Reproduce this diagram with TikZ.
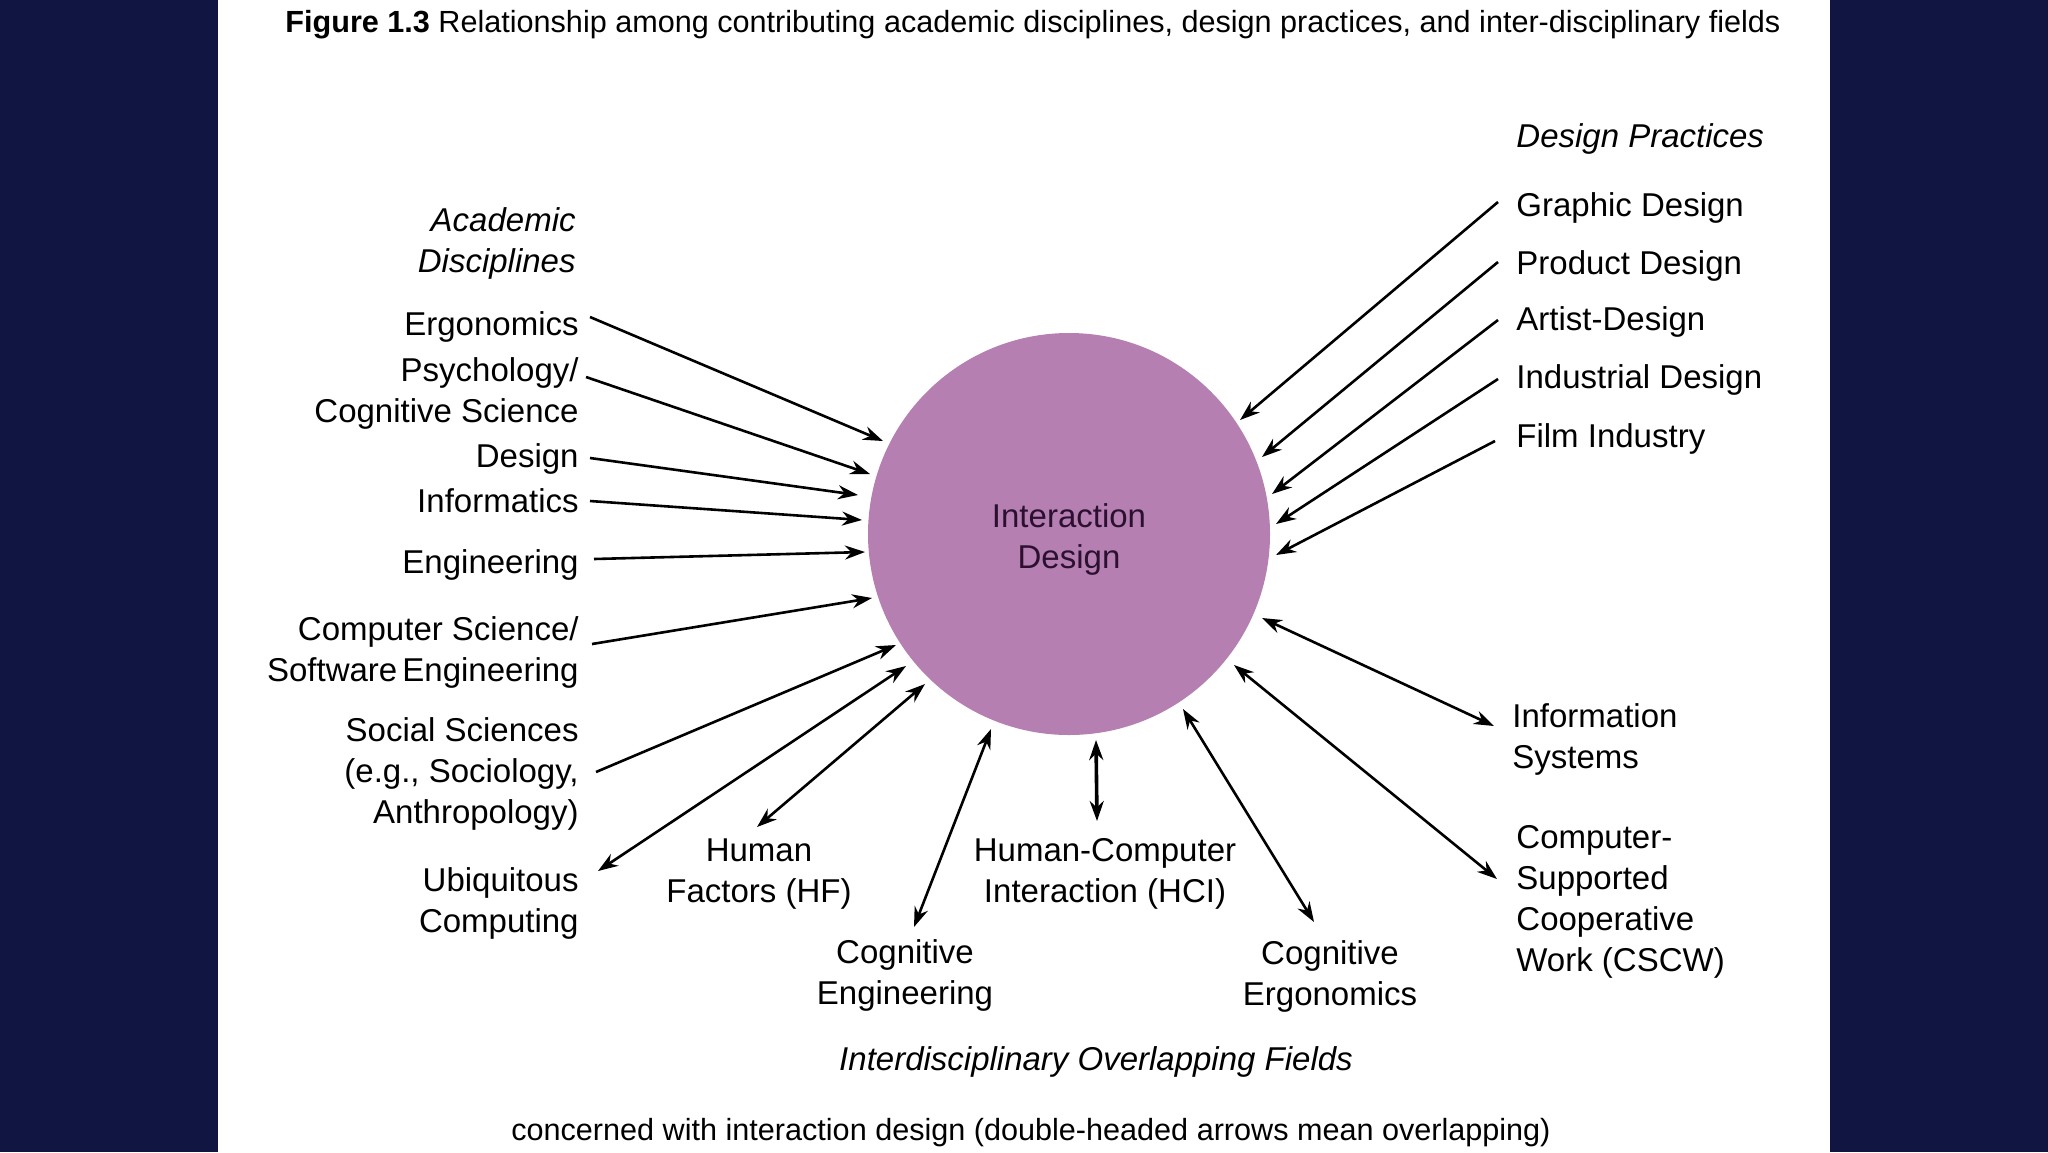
\documentclass[tikz,border=0pt]{standalone}
\usepackage{fontspec}
\setmainfont{Liberation Sans}
\usetikzlibrary{arrows.meta}
\definecolor{navy}{HTML}{111541}
\definecolor{orb}{HTML}{B57FB2}
\definecolor{orbtext}{HTML}{2B1030}
\begin{document}
\begin{tikzpicture}[x=0.5pt,y=-0.5pt,
  lbl/.style={font=\fontsize{16.5}{20.5}\selectfont, inner sep=0pt},
  lblR/.style={lbl, anchor=east, align=right},
  lblL/.style={lbl, anchor=west, align=left},
  lblC/.style={lbl, anchor=center, align=center},
  hdr/.style={font=\fontsize{16.5}{20.5}\selectfont\itshape, inner sep=0pt},
  captext/.style={font=\fontsize{15.3}{18}\selectfont, inner sep=0pt},
  arr/.style={line width=1.3pt, -{Stealth[length=10pt,width=7pt]}},
  darr/.style={line width=1.3pt, {Stealth[length=10pt,width=7pt]}-{Stealth[length=10pt,width=7pt]}}
]
\useasboundingbox (0,0) rectangle (2048,1152);
\fill[navy] (0,0) rectangle (2048,1152);
\fill[white] (218,0) rectangle (1830,1152);

% title and caption
\node[captext, anchor=west] (title) at (285,25) {\textbf{Figure 1.3} Relationship among contributing academic disciplines, design practices, and inter-disciplinary fields};
\node[captext, anchor=center] (caption) at (1031,1133) {concerned with interaction design (double-headed arrows mean overlapping)};

% central circle
\node[circle, fill=orb, minimum size=201pt, inner sep=0pt] (id) at (1069,534) {};
\node[lblC, text=orbtext] (idtext) at (1069,539) {Interaction\\Design};

% left labels
\node[hdr, anchor=east, align=right] (acad) at (576,243.5) {Academic\\Disciplines};
\node[lblR] (ergo) at (579,327) {Ergonomics};
\node[lblR] (psych) at (579,393) {Psychology/\\Cognitive Science};
\node[lblR] (design) at (579,459) {Design};
\node[lblR] (inform) at (579,501) {Informatics};
\node[lblR] (eng) at (579,565) {Engineering};
\node[lblR] (cs) at (579,652.5) {Computer Science/\\Software\hspace{-2pt} Engineering};
\node[lblR] (soc) at (579,774) {Social Sciences\\(e.g., Sociology,\\Anthropology)};
\node[lblR] (ubi) at (579,903) {Ubiquitous\\Computing};

% right labels
\node[hdr, anchor=west] (dp) at (1516,139) {Design Practices};
\node[lblL] (graphic) at (1516,208) {Graphic Design};
\node[lblL] (product) at (1516,265.5) {Product Design};
\node[lblL] (artist) at (1516,322) {Artist-Design};
\node[lblL] (industrial) at (1516,380) {Industrial Design};
\node[lblL] (film) at (1516,439) {Film Industry};
\node[lblL] (info) at (1512,739) {Information\\Systems};
\node[lblL] (cscw) at (1516,902) {Computer-\\Supported\\Cooperative\\Work (CSCW)};

% bottom labels
\node[lblC] (hf) at (759,874.5) {Human\\Factors (HF)};
\node[lblC] (ce) at (905,975.5) {Cognitive\\Engineering};
\node[lblC] (hci) at (1105,873.5) {Human-Computer\\Interaction (HCI)};
\node[lblC] (cerg) at (1330,976) {Cognitive\\Ergonomics};
\node[hdr, anchor=center] (idf) at (1096,1062) {Interdisciplinary Overlapping Fields};

% connector end points
\coordinate (ergoS) at (590,317);  \coordinate (ergoE) at (883,441);
\coordinate (psychS) at (586,377); \coordinate (psychE) at (870,474);
\coordinate (designS) at (590,458); \coordinate (designE) at (858,495);
\coordinate (informS) at (590,501); \coordinate (informE) at (862,520);
\coordinate (engS) at (594,559);   \coordinate (engE) at (865,552);
\coordinate (csS) at (592,644);    \coordinate (csE) at (872,598);
\coordinate (socS) at (596,772);   \coordinate (socE) at (896,645);
\coordinate (ubiS) at (598,871);   \coordinate (ubiE) at (906,666);
\coordinate (hfS) at (757,827);    \coordinate (hfE) at (925,684);
\coordinate (ceS) at (914,927);    \coordinate (ceE) at (991,729);
\coordinate (hciS) at (1097,821);  \coordinate (hciE) at (1096,740);
\coordinate (cergS) at (1314,922); \coordinate (cergE) at (1183,709);
\coordinate (cscwS) at (1497,879); \coordinate (cscwE) at (1234,665);
\coordinate (infoS) at (1494,726); \coordinate (infoE) at (1262,618);
\coordinate (graphicS) at (1498,202); \coordinate (graphicE) at (1240,420);
\coordinate (productS) at (1498,262); \coordinate (productE) at (1262,457);
\coordinate (artistS) at (1498,320);  \coordinate (artistE) at (1272,494);
\coordinate (industrialS) at (1498,379); \coordinate (industrialE) at (1276,524);
\coordinate (filmS) at (1495,441);    \coordinate (filmE) at (1276,555);

% one-way arrows
\foreach \n in {ergo,psych,design,inform,eng,cs,soc,graphic,product,artist,industrial,film}
  \draw[arr] (\n S) -- (\n E);
% double-headed arrows
\foreach \n in {ubi,hf,ce,cerg,cscw,info}
  \draw[darr] (\n S) -- (\n E);
\draw[darr, line width=1.8pt] (hciS) -- (hciE);
\end{tikzpicture}
\end{document}
